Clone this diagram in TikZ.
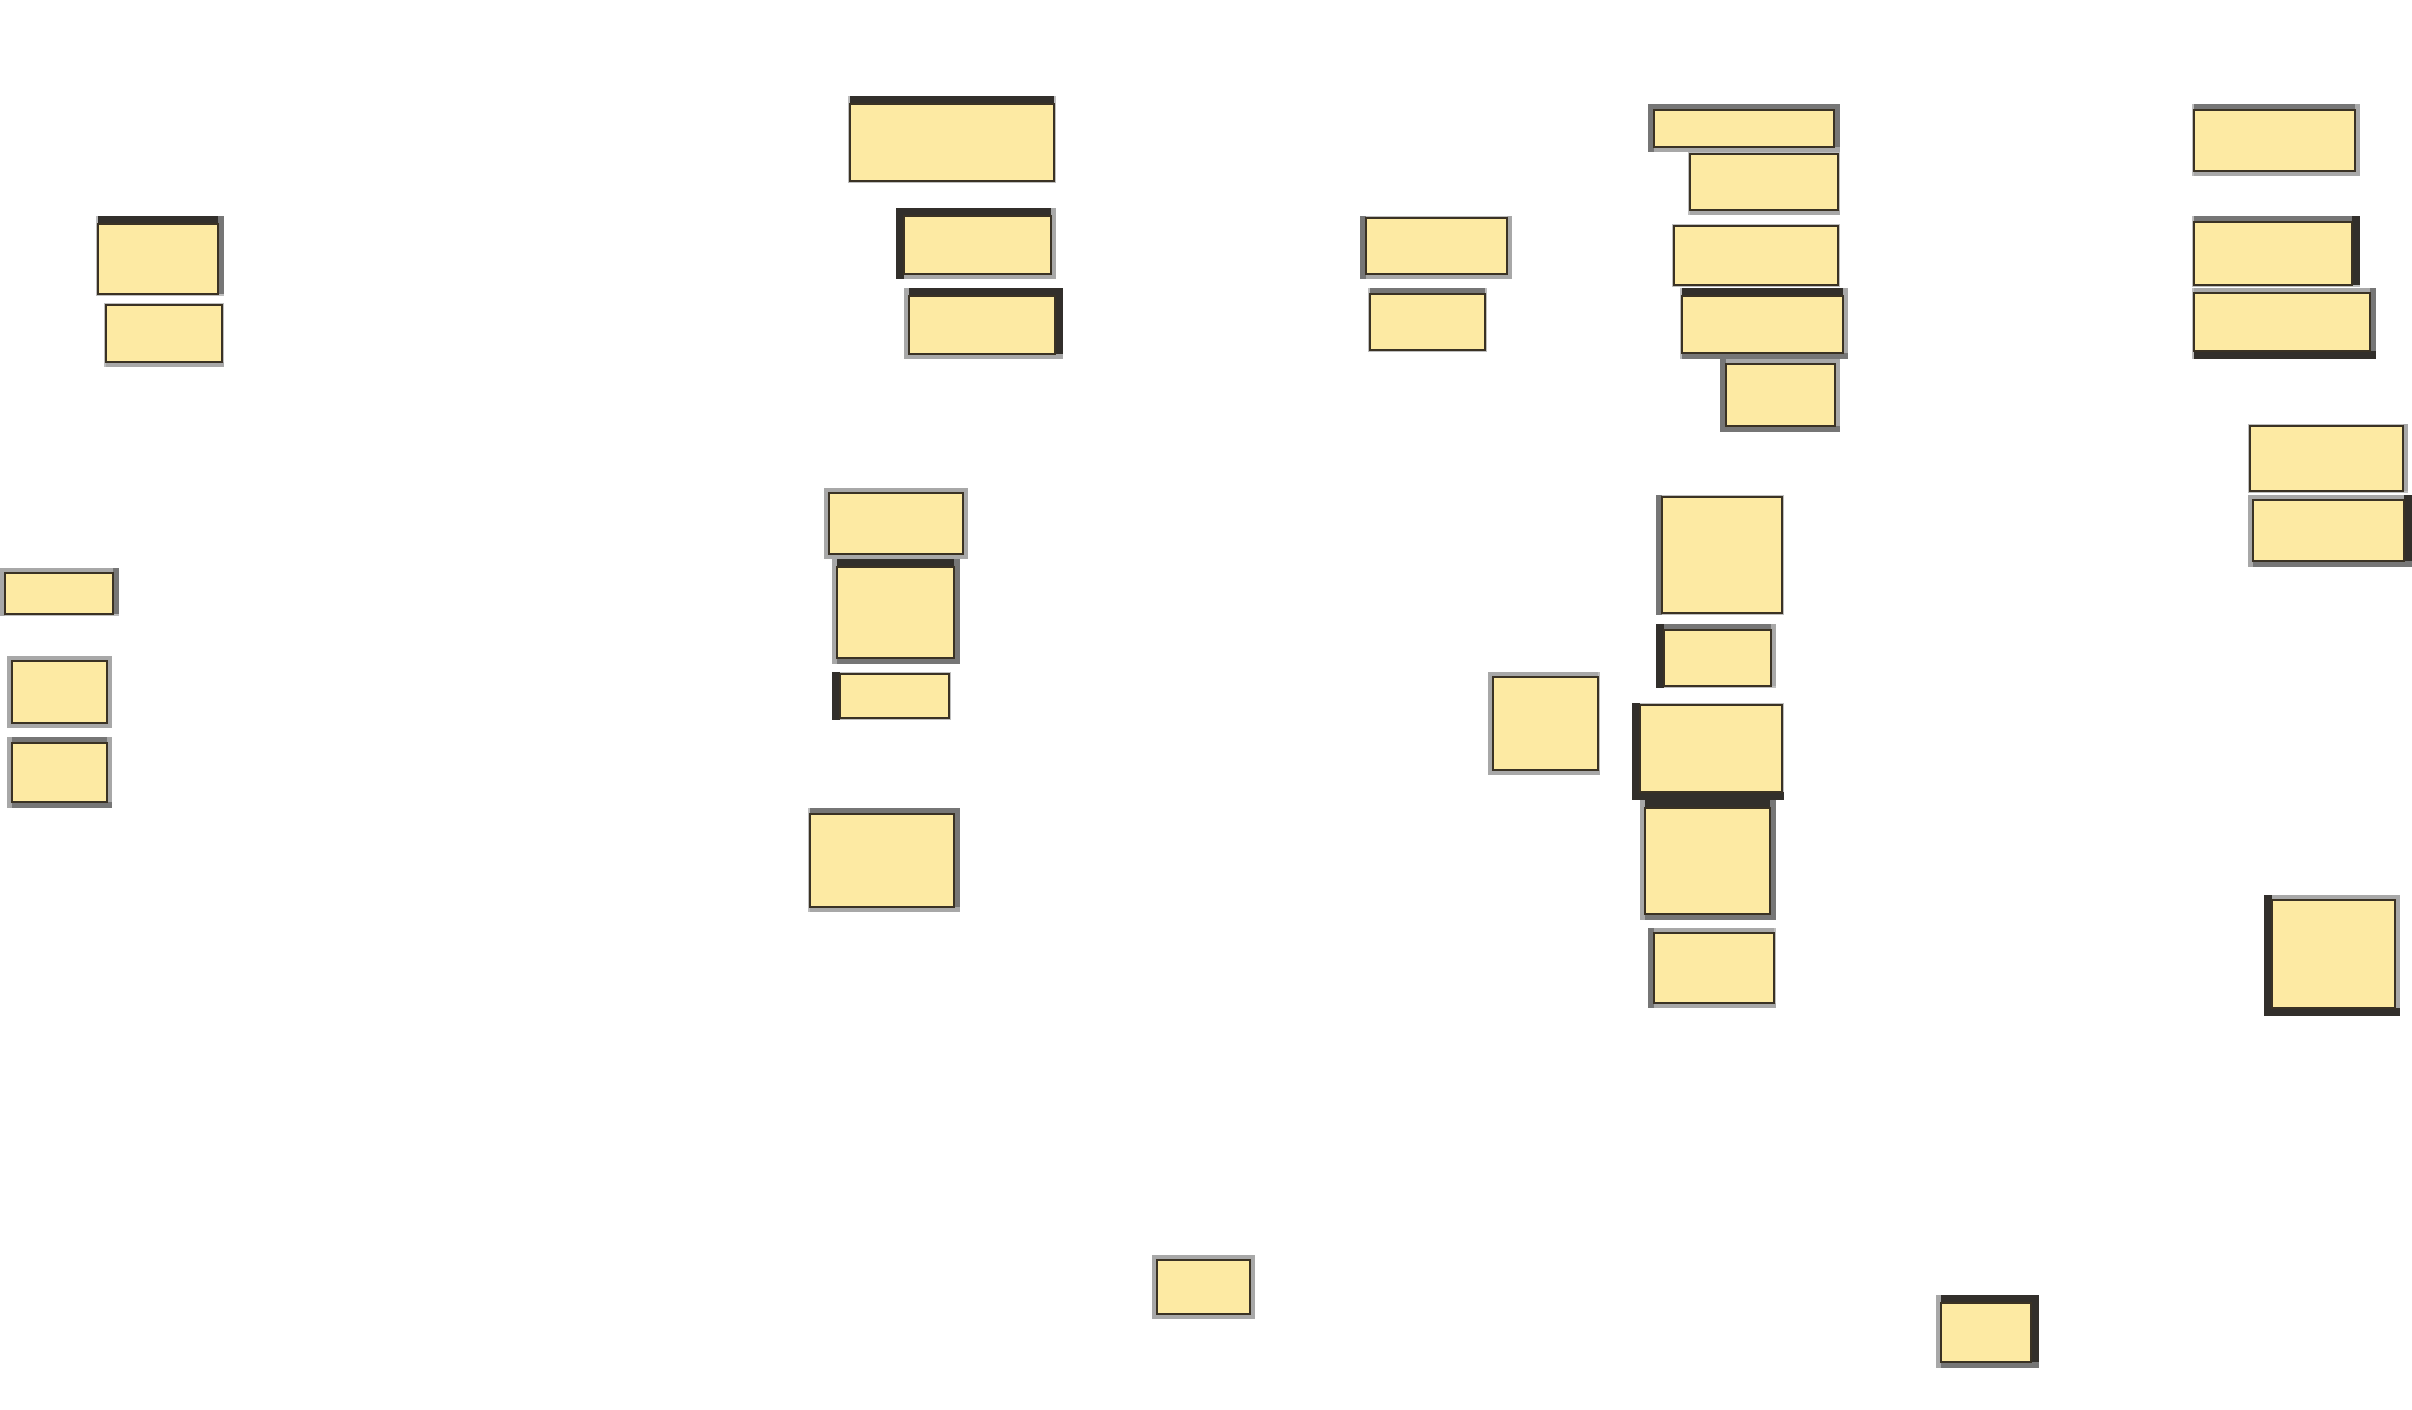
\documentclass[tikz,border=0pt]{standalone}
\usepackage{tikz}
\usetikzlibrary{positioning}

\definecolor{noteyellow}{RGB}{253,234,163}
\definecolor{noteline}{RGB}{58,50,36}
\definecolor{bcD}{RGB}{50,47,43}
\definecolor{bcG}{RGB}{118,118,118}
\definecolor{bcL}{RGB}{168,168,168}
\definecolor{bcN}{RGB}{190,190,190}
% frame widths per side code (px)
\def\bwD{8}\def\bwG{6}\def\bwL{5}\def\bwN{2}
\tikzstyle{note} = [draw=noteline, fill=noteyellow, line width=0.6pt]

% #1..#4: x1 y1 x2 y2, #5..#8: top right bottom left frame
\newcommand\notebox[8]{%
  \fill[bc#5] (#1,#2) rectangle (#3,{#2+\csname bw#5\endcsname});
  \fill[bc#6] ({#3-\csname bw#6\endcsname},#2) rectangle (#3,#4);
  \fill[bc#7] (#1,{#4-\csname bw#7\endcsname}) rectangle (#3,#4);
  \fill[bc#8] (#1,#2) rectangle ({#1+\csname bw#8\endcsname},#4);
  \draw[note] ({#1+\csname bw#8\endcsname},{#2+\csname bw#5\endcsname}) rectangle ({#3-\csname bw#6\endcsname},{#4-\csname bw#7\endcsname});
}

\begin{document}
\begin{tikzpicture}[x=0.01cm, y=-0.01cm]
\useasboundingbox (0,0) rectangle (2412,1409);

% left column
\notebox{96}{216}{224}{296}{D}{G}{N}{N}
\notebox{104}{303}{224}{367}{N}{N}{L}{N}
\notebox{0}{568}{119}{616}{L}{G}{N}{L}
\notebox{7}{656}{112}{728}{L}{L}{L}{L}
\notebox{7}{737}{112}{808}{G}{L}{G}{L}

% second column
\notebox{848}{96}{1056}{183}{D}{N}{N}{N}
\notebox{896}{208}{1056}{279}{D}{L}{L}{D}
\notebox{904}{288}{1063}{359}{D}{D}{L}{L}
\notebox{824}{488}{968}{559}{L}{L}{L}{L}
\notebox{832}{559}{960}{664}{D}{G}{G}{L}
\notebox{832}{672}{951}{720}{N}{N}{N}{D}
\notebox{808}{808}{960}{912}{G}{G}{L}{N}

% middle
\notebox{1360}{216}{1512}{279}{N}{L}{L}{G}
\notebox{1368}{288}{1487}{352}{G}{N}{N}{N}
\notebox{1488}{672}{1600}{775}{L}{N}{L}{L}
\notebox{1152}{1255}{1255}{1319}{L}{L}{L}{L}

% third column
\notebox{1648}{104}{1840}{152}{G}{G}{L}{G}
\notebox{1688}{152}{1840}{215}{N}{N}{L}{N}
\notebox{1672}{224}{1840}{287}{N}{N}{N}{N}
\notebox{1680}{288}{1848}{359}{D}{L}{G}{N}
\notebox{1720}{359}{1840}{432}{L}{L}{G}{G}
\notebox{1656}{495}{1784}{615}{N}{N}{N}{G}
\notebox{1656}{624}{1776}{688}{G}{L}{N}{D}
\notebox{1632}{703}{1784}{800}{N}{N}{D}{D}
\notebox{1640}{800}{1776}{920}{D}{G}{G}{L}
\notebox{1648}{928}{1776}{1008}{L}{N}{L}{G}
\notebox{1936}{1295}{2039}{1368}{D}{D}{G}{L}

% right column
\notebox{2192}{104}{2360}{176}{G}{L}{L}{N}
\notebox{2192}{216}{2360}{287}{G}{D}{N}{N}
\notebox{2192}{288}{2376}{359}{L}{G}{D}{N}
\notebox{2248}{424}{2408}{493}{N}{L}{N}{N}
\notebox{2248}{495}{2412}{567}{L}{D}{G}{L}
\notebox{2264}{895}{2400}{1016}{L}{L}{D}{D}

\end{tikzpicture}
\end{document}
